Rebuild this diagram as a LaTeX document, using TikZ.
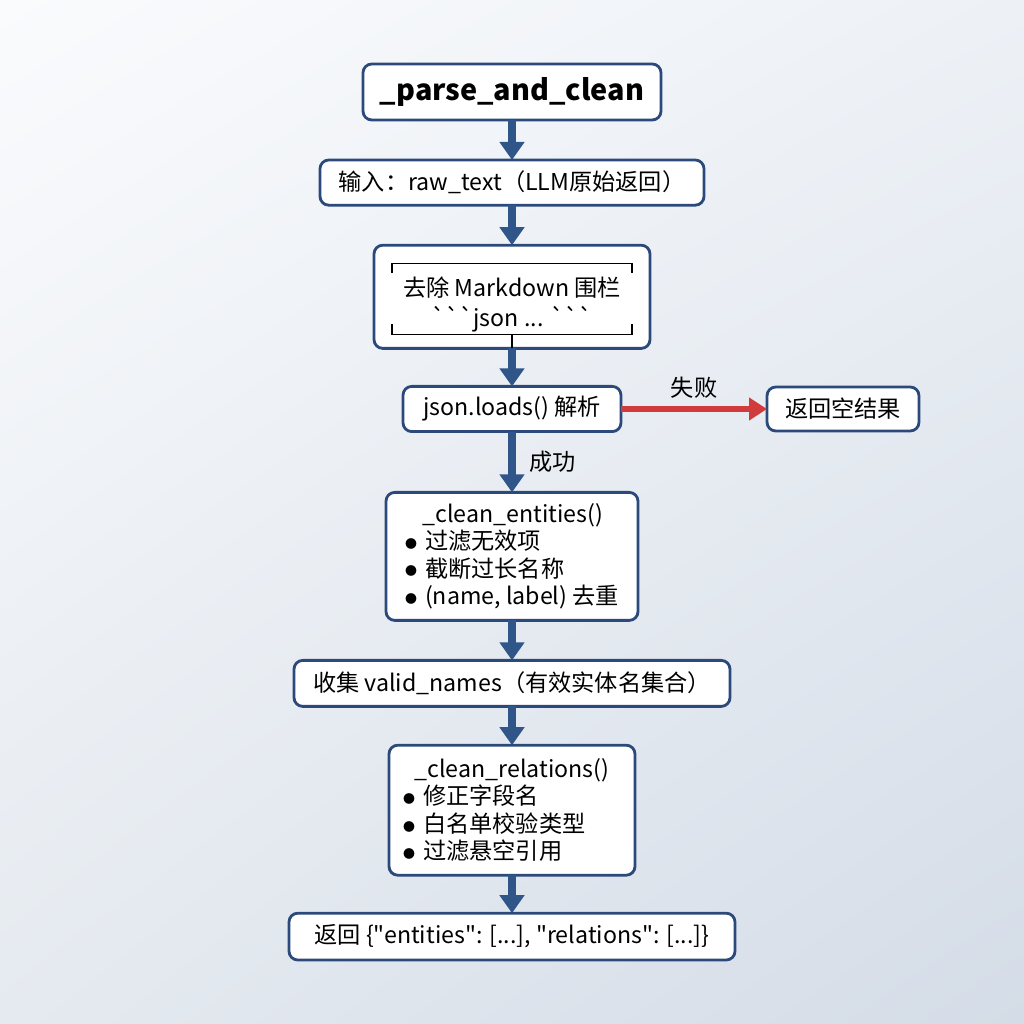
\documentclass[tikz,border=0pt]{standalone}
\usepackage{fontspec}
\setmainfont{Noto Sans CJK SC}[Ligatures=TeXOff]
\usetikzlibrary{positioning, arrows.meta, calc, shadings}

\definecolor{boxblue}{HTML}{2B4A7B}
\definecolor{flowblue}{HTML}{2F5589}
\definecolor{failred}{HTML}{D13B3B}
\definecolor{bgul}{HTML}{FAFBFD}
\definecolor{bgur}{HTML}{EDF1F6}
\definecolor{bgll}{HTML}{E5EAF0}
\definecolor{bglr}{HTML}{D4DCE7}

\newcommand{\blt}{\raisebox{1pt}{\fontsize{8.5}{8.5}\selectfont ●}\hspace{0.35em}}

\begin{document}
\begin{tikzpicture}[
    node distance=1cm and 3.65cm,
    box/.style={rectangle, draw=boxblue, line width=2pt, outer sep=0pt, fill=white, rounded corners=0.22cm, align=center, inner sep=2pt, font=\fontsize{16.5}{19.5}\selectfont},
    listbox/.style={box, align=left},
    arrow/.style={-{Triangle[width=0.6cm, length=0.45cm]}, draw=flowblue, line width=5pt},
    failarrow/.style={-{Triangle[width=0.55cm, length=0.45cm]}, draw=failred, line width=4.5pt},
    lbl/.style={font=\fontsize{16.5}{19.5}\selectfont}
]

% Background
\shade[upper left=bgul, upper right=bgur, lower left=bgll, lower right=bglr] (0,0) rectangle (25.6,25.6);
\useasboundingbox (0,0) rectangle (25.6,25.6);

% Entry
\node[box, minimum width=7.45cm, minimum height=1.4cm, font=\fontsize{20.5}{24}\selectfont\bfseries] (title) at (12.8,23.3) {\_parse\_and\_clean};
\node[box, below=1cm of title, minimum width=9.6cm, minimum height=1.13cm] (input) {输入：raw\_text（LLM原始返回）};

% Strip fences
\node[box, below=1cm of input, minimum width=6.9cm, minimum height=2.58cm, font=\fontsize{16.5}{21.3}\selectfont] (md) {\rule{0pt}{25pt}去除 Markdown 围栏\\```json ... ```};
\draw[black, line width=0.8pt] ($(md.north west)+(0.45,-0.7)$) -- ++(0,0.25) -| ($(md.north east)+(-0.45,-0.7)$);
\draw[black, line width=0.8pt] ($(md.south west)+(0.45,0.6)$) -- ++(0,-0.25) -| ($(md.south east)+(-0.45,0.6)$);
\draw[black, line width=0.8pt] ($(md.south)+(0,0.35)$) -- (md.south);

% Parse
\node[box, below=0.95cm of md, minimum width=5.45cm, minimum height=1.13cm] (parse) {json.loads() 解析};
\node[box, right=of parse, minimum width=3.8cm, minimum height=1.1cm] (empty) {返回空结果};

% Entities
\node[listbox, below=1.52cm of parse, minimum width=6.3cm, minimum height=3.2cm] (ent) {\hspace*{0.75em}\_clean\_entities()\\\blt 过滤无效项\\\blt 截断过长名称\\\blt (name, label) 去重};
\node[box, below=1cm of ent, minimum width=10.9cm, minimum height=1.15cm] (names) {收集 valid\_names（有效实体名集合）};

% Relations
\node[listbox, below=0.97cm of names, minimum width=6.15cm, minimum height=3.25cm] (rel) {\_clean\_relations()\\\hspace*{-0.5em}\blt 修正字段名\\\hspace*{-0.5em}\blt 白名单校验类型\\\hspace*{-0.5em}\blt 过滤悬空引用};
\node[box, below=0.95cm of rel, minimum width=11.15cm, minimum height=1.17cm] (result) {返回 \{"entities": [...], "relations": [...]\}};

% Connections
\draw[arrow] (title) -- (input);
\draw[arrow] (input) -- (md);
\draw[arrow] (md) -- (parse);
\draw[failarrow] (parse) -- (empty) node[lbl, midway, above=0.08cm] {失败};
\draw[arrow] (parse) -- (ent) node[lbl, midway, right=0.22cm] {成功};
\draw[arrow] (ent) -- (names);
\draw[arrow] (names) -- (rel);
\draw[arrow] (rel) -- (result);

\end{tikzpicture}
\end{document}
